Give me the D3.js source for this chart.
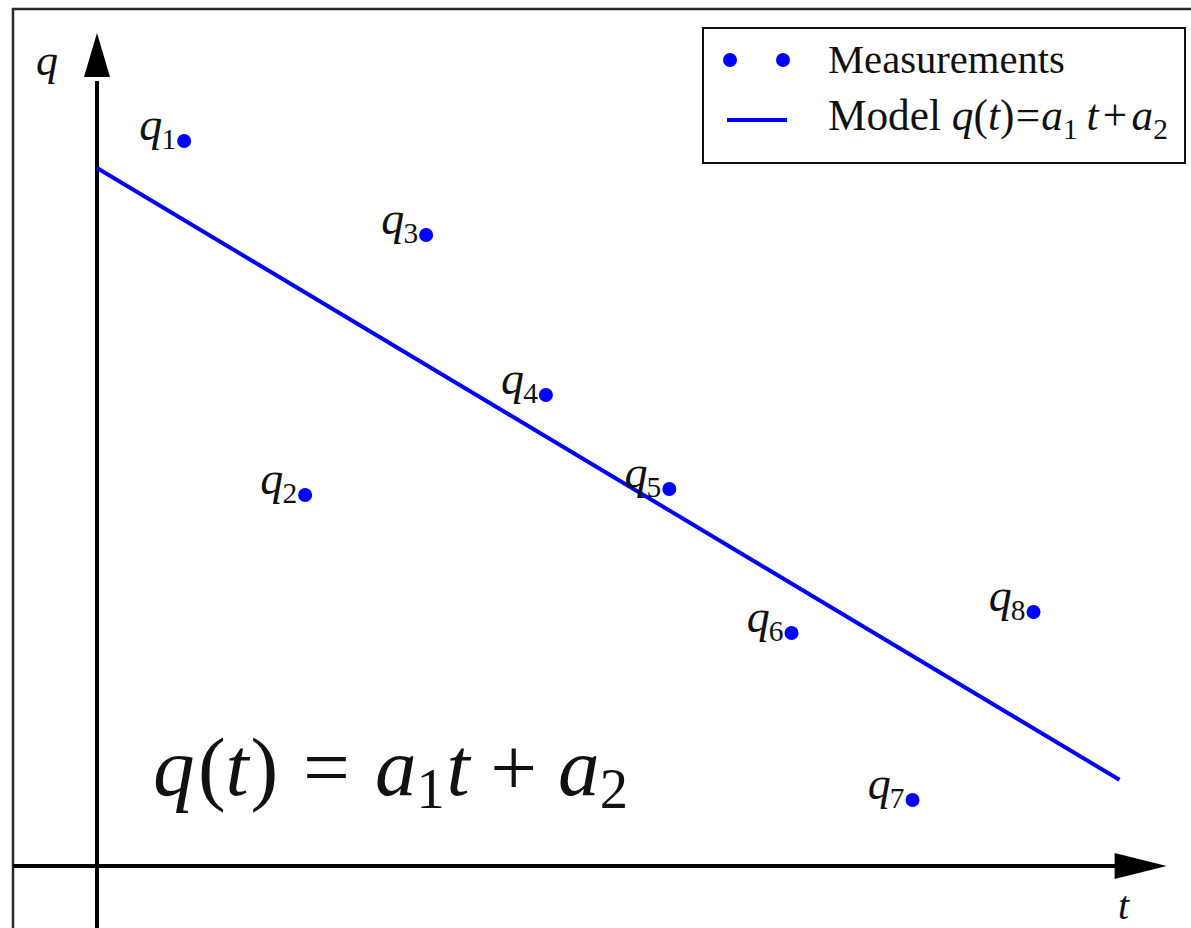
<!DOCTYPE html>
<html>
<head>
<meta charset="utf-8">
<script src="https://cdn.jsdelivr.net/npm/d3@7"></script>
<style>
  html, body { margin: 0; padding: 0; background: #fff; overflow: hidden; }
  svg { display: block; }
</style>
</head>
<body>
<svg id="chart" width="1191" height="928"></svg>
<script>
// Measurement times and values
const times = [0.72, 1.72, 2.72, 3.71, 4.73, 5.74, 6.74, 7.74];
const values = [7.25, 3.71, 6.31, 4.71, 3.77, 2.33, 0.66, 2.54];
const pointLabels = ["1", "2", "3", "4", "5", "6", "7", "8"];

// Fitted linear model q(t) = a1 t + a2
const modelCoef = { a1: -0.724, a2: 6.98 };
const modelRange = [0, 8.45];

const legendLabels = ["Measurements", "Model"];

const W = 1191, H = 928;
const svg = d3.select("#chart");
const SERIF = "'Liberation Serif', 'DejaVu Serif', serif";
const BLUE = "#0000ff";

// Axis origin sits at (97, 866); 121 px per unit of t, 100 px per unit of q
const x = d3.scaleLinear().domain([0, 9]).range([97, 97 + 9 * 121]);
const y = d3.scaleLinear().domain([0, 8]).range([866, 66]);

// Outer frame (extends past the right and bottom edges)
svg.append("rect")
  .attr("x", 13).attr("y", 9)
  .attr("width", W + 20).attr("height", H + 20)
  .attr("fill", "#fff").attr("stroke", "#2a2a2a").attr("stroke-width", 2.5);

// Helper that writes a run of math-like text: italic symbols, upright digits, subscripts
function mathText(parent, segs, px, py, size, anchor, subScale) {
  const ss = subScale || 0.68;
  const t = parent.append("text")
    .attr("x", px).attr("y", py)
    .attr("font-family", SERIF)
    .attr("font-size", size)
    .attr("fill", "#111")
    .attr("text-anchor", anchor || "start");
  let shift = 0;
  segs.forEach(s => {
    const ts = t.append("tspan").text(s.t);
    if (s.i) ts.attr("font-style", "italic");
    const target = s.sub ? size * (s.subDrop || 0.24) : 0;
    const dy = target - shift;
    if (dy !== 0) ts.attr("dy", dy);
    shift = target;
    if (s.sub) ts.attr("font-size", size * ss);
    if (s.gap) ts.attr("dx", s.gap * size);
  });
  return t;
}

// Build a text run and scale it so it spans a given width
function fittedMath(parent, segs, px, py, size, width, anchor) {
  let t = mathText(parent, segs, px, py, size, anchor);
  const w = t.node().getBBox().width;
  t.remove();
  return mathText(parent, segs, px, py, size * width / w, anchor);
}

const gAxes = svg.append("g");

// Horizontal t axis with arrow head
gAxes.append("line")
  .attr("x1", 13).attr("x2", x(8.43))
  .attr("y1", y(0)).attr("y2", y(0))
  .attr("stroke", "#000").attr("stroke-width", 4);
gAxes.append("path")
  .attr("d", `M${x(8.41)},${y(0) - 13} L${x(8.41) + 52},${y(0)} L${x(8.41)},${y(0) + 13} Z`)
  .attr("fill", "#000");

// Vertical q axis with arrow head
gAxes.append("line")
  .attr("x1", x(0)).attr("x2", x(0))
  .attr("y1", H + 5).attr("y2", y(7.85))
  .attr("stroke", "#000").attr("stroke-width", 4);
gAxes.append("path")
  .attr("d", `M${x(0) - 13},${y(7.89)} L${x(0)},${y(7.89) - 44} L${x(0) + 13},${y(7.89)} Z`)
  .attr("fill", "#000");

// Axis names
mathText(svg, [{ t: "q", i: true }], 36, 75, 44);
mathText(svg, [{ t: "t", i: true }], 1118, 919, 40);

// Model line
const line = d3.line().x(d => x(d)).y(d => y(modelCoef.a1 * d + modelCoef.a2));
svg.append("path")
  .datum(modelRange)
  .attr("d", line)
  .attr("fill", "none")
  .attr("stroke", BLUE)
  .attr("stroke-width", 4);

// Measurement points and their labels
const pts = times.map((t, i) => ({ t, q: values[i], lab: pointLabels[i] }));
svg.append("g").selectAll("circle")
  .data(pts).join("circle")
  .attr("cx", d => x(d.t)).attr("cy", d => y(d.q))
  .attr("r", 7).attr("fill", BLUE);

const gLab = svg.append("g");
pts.forEach(d => {
  mathText(gLab, [
    { t: "q", i: true },
    { t: d.lab, sub: true, subDrop: 0.2, gap: -0.02 }
  ], x(d.t) - 8, y(d.q) - 1, 46, "end", 0.64);
});

// Large formula near the bottom left
fittedMath(svg, [
  { t: "q", i: true },
  { t: "(", gap: 0.04 },
  { t: "t", i: true },
  { t: ")", gap: 0.02 },
  { t: "=", gap: 0.3 },
  { t: "a", i: true, gap: 0.3 },
  { t: "1", sub: true, subDrop: 0.16 },
  { t: "t", i: true, gap: 0.02 },
  { t: "+", gap: 0.25 },
  { t: "a", i: true, gap: 0.25 },
  { t: "2", sub: true, subDrop: 0.16 }
], 153, 795, 66, 475);

// Legend
const gLeg = svg.append("g");
gLeg.append("rect")
  .attr("x", 703).attr("y", 28).attr("width", 482).attr("height", 135)
  .attr("fill", "#fff").attr("stroke", "#111").attr("stroke-width", 2);
gLeg.selectAll("circle.leg")
  .data([730, 783]).join("circle")
  .attr("class", "leg")
  .attr("cx", d => d).attr("cy", 60).attr("r", 7).attr("fill", BLUE);
gLeg.append("line")
  .attr("x1", 727).attr("x2", 787).attr("y1", 120).attr("y2", 120)
  .attr("stroke", BLUE).attr("stroke-width", 4);
fittedMath(gLeg, [{ t: legendLabels[0] }], 828, 73, 33, 237);
fittedMath(gLeg, [
  { t: legendLabels[1] + " " },
  { t: "q", i: true },
  { t: "(" },
  { t: "t", i: true },
  { t: ")" },
  { t: "=", gap: 0.03 },
  { t: "a", i: true, gap: 0.03 },
  { t: "1", sub: true, subDrop: 0.2 },
  { t: "t", i: true, gap: 0.2 },
  { t: "+", gap: 0.1 },
  { t: "a", i: true, gap: 0.1 },
  { t: "2", sub: true, subDrop: 0.2 }
], 828, 130, 33, 340);
</script>
</body>
</html>
